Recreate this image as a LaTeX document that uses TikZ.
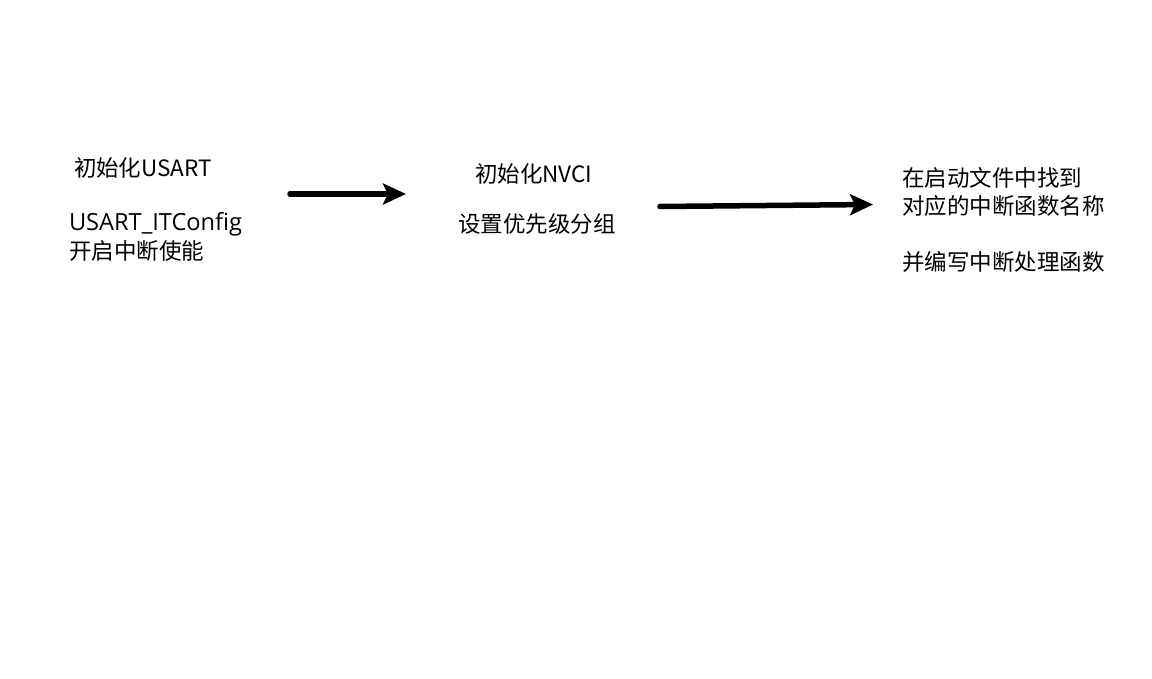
\documentclass[tikz,border=0pt]{standalone}
\usepackage{fontspec}
\setmainfont[Scale=1.05]{Open Sans}
\newfontfamily\cjk{Noto Sans CJK SC}
\usetikzlibrary{arrows.meta}
\tikzset{
  lbl/.style={anchor=base west, inner sep=0pt, outer sep=0pt, font=\fontsize{22.5}{30}\selectfont},
  flow/.style={line width=5.5pt, line cap=round, -{Stealth[length=23pt, width=21pt, inset=5pt]}}
}
\begin{document}
\begin{tikzpicture}[x=1pt, y=-1pt]
\useasboundingbox[fill=white] (0,0) rectangle (1152,679);
% column 1
\node[lbl] (a1) at (74,177) {\cjk{初始化}USART};
\node[lbl] (a2) at (69,231) {USART\_ITConfig};
\node[lbl] (a3) at (69,260) {\cjk{开启中断使能}};
% column 2
\node[lbl] (b1) at (475,183) {\cjk{初始化}NVCI};
\node[lbl] (b2) at (458,233) {\cjk{设置优先级分组}};
% column 3
\node[lbl] (c1) at (902,187) {\cjk{在启动文件中找到}};
\node[lbl] (c2) at (902,215) {\cjk{对应的中断函数名称}};
\node[lbl] (c3) at (902,271) {\cjk{并编写中断处理函数}};
% arrows
\coordinate (p1) at (290,194);
\coordinate (q1) at (406,194);
\coordinate (p2) at (660,206.5);
\coordinate (q2) at (873,204.5);
\draw[flow] (p1) -- (q1);
\draw[flow] (p2) -- (q2);
\end{tikzpicture}
\end{document}
